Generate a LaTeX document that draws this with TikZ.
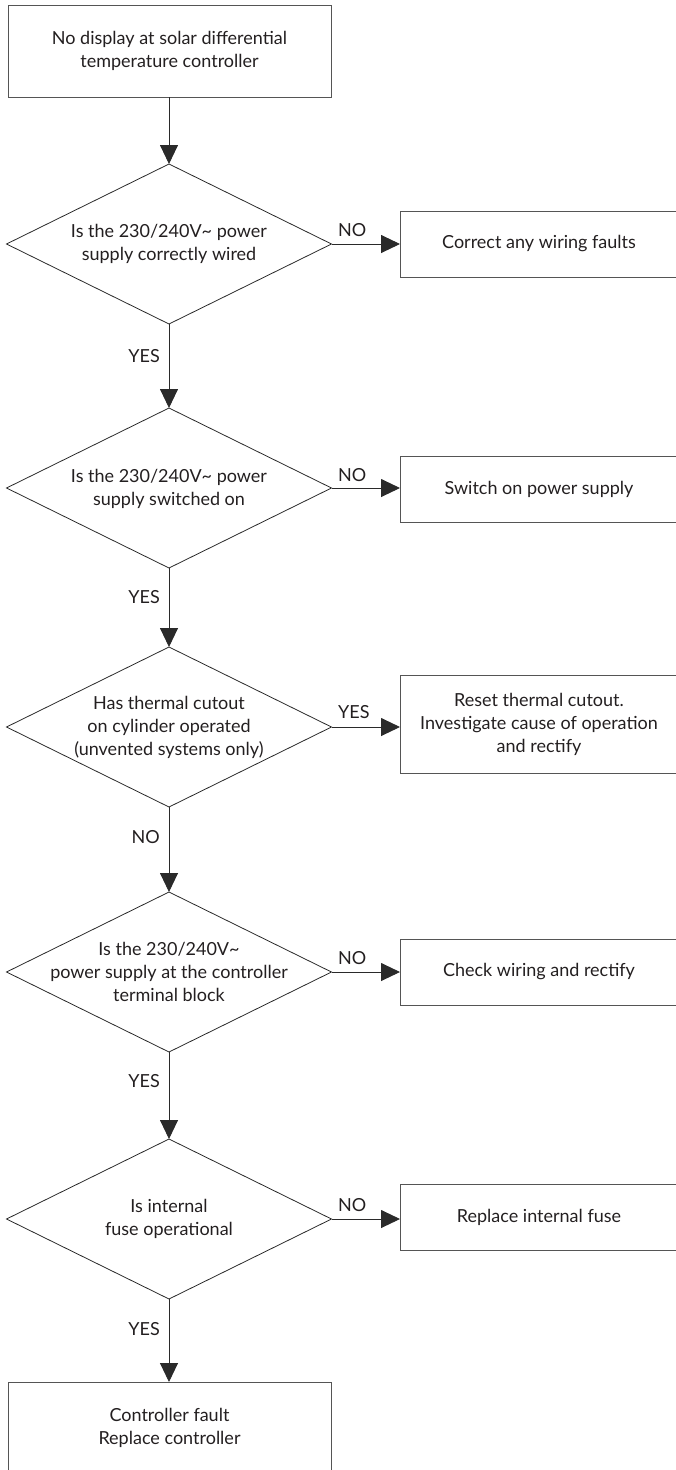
\documentclass[tikz,border=0pt]{standalone}
\usepackage{fontspec}
\setmainfont{Lato}
\usetikzlibrary{shapes.geometric,arrows.meta}
\definecolor{linec}{HTML}{2A2A2A}
\definecolor{boxc}{HTML}{555555}
\definecolor{textc}{HTML}{231F20}
\newcommand\flowfont{\fontsize{18}{23}\selectfont}
\begin{document}
\begin{tikzpicture}[x=1pt,y=-1pt,
  boxnode/.style={draw=boxc, line width=1pt, align=center, inner sep=0pt, outer sep=0pt, text=textc, font=\flowfont},
  sidebox/.style={align=center, inner sep=0pt, outer sep=0pt, text=textc, font=\flowfont, minimum width=278pt},
  boxline/.style={draw=boxc, line width=1pt},
  dia/.style={draw=linec, line width=0.8pt, shape=diamond, minimum width=325pt, minimum height=160pt, inner sep=0pt, outer sep=0pt},
  diatext/.style={align=center, text=textc, font=\flowfont, inner sep=0pt},
  lbl/.style={text=textc, font=\flowfont, inner sep=0pt},
  arr/.style={draw=linec, line width=0.9pt, -{Triangle[length=19pt,width=18pt]}}
]
\useasboundingbox (0,0) rectangle (676,1470);
\clip (0,0) rectangle (676,1470);

% main column
\node[boxnode, minimum width=323pt, minimum height=92pt] (start) at (169.5,51) {No display at solar differential\\temperature controller};

\node[dia] (d1) at (169,244) {};
\node[diatext] (t1) at (169,244) {Is the 230/240V\textasciitilde{} power\\supply correctly wired};
\node[dia] (d2) at (169,488) {};
\node[diatext] (t2) at (169,489) {Is the 230/240V\textasciitilde{} power\\supply switched on};
\node[dia] (d3) at (169,727) {};
\node[diatext] (t3) at (169,727) {Has thermal cutout\\on cylinder operated\\(unvented systems only)};
\node[dia] (d4) at (169,972) {};
\node[diatext] (t4) at (169,972) {Is the 230/240V\textasciitilde{}\\power supply at the controller\\terminal block};
\node[dia] (d5) at (169,1219) {};
\node[diatext] (t5) at (169,1219) {Is internal\\fuse operational};

\node[boxnode, minimum width=323pt, minimum height=92pt] (end) at (169.5,1428) {Controller fault\\Replace controller};

% side boxes (open on the right, running off the page)
\node[sidebox, minimum height=66pt] (b1) at (539,244) {Correct any wiring faults};
\node[sidebox, minimum height=66pt] (b2) at (539,489) {Switch on power supply};
\node[sidebox, minimum height=98pt] (b3) at (539,724) {Reset thermal cutout.\\Investigate cause of operation\\and rectify};
\node[sidebox, minimum height=66pt] (b4) at (539,972) {Check wiring and rectify};
\node[sidebox, minimum height=66pt] (b5) at (539,1217) {Replace internal fuse};
\foreach \b in {b1,b2,b3,b4,b5}
  \draw[boxline] ([xshift=20pt]\b.north east) -- (\b.north west) -- (\b.south west) -- ([xshift=20pt]\b.south east);

% vertical connectors
\draw[arr] (start.south -| d1.north) -- (d1.north);
\draw[arr] (d1.south) -- (d2.north);
\draw[arr] (d2.south) -- (d3.north);
\draw[arr] (d3.south) -- (d4.north);
\draw[arr] (d4.south) -- (d5.north);
\draw[arr] (d5.south) -- (d5.south |- end.north);

% horizontal connectors
\draw[arr] (d1.east) -- (d1.east -| b1.west);
\draw[arr] (d2.east) -- (d2.east -| b2.west);
\draw[arr] (d3.east) -- (d3.east -| b3.west);
\draw[arr] (d4.east) -- (d4.east -| b4.west);
\draw[arr] (d5.east) -- (d5.east -| b5.west);

% labels
\node[lbl, anchor=west] (h1) at (338,230) {NO};
\node[lbl, anchor=west] (h2) at (338,475) {NO};
\node[lbl, anchor=west] (h3) at (338,712) {YES};
\node[lbl, anchor=west] (h4) at (338,958) {NO};
\node[lbl, anchor=west] (h5) at (338,1205) {NO};

\node[lbl, anchor=east] (v1) at (160,356) {YES};
\node[lbl, anchor=east] (v2) at (160,597) {YES};
\node[lbl, anchor=east] (v3) at (160,837) {NO};
\node[lbl, anchor=east] (v4) at (160,1081) {YES};
\node[lbl, anchor=east] (v5) at (160,1329) {YES};
\end{tikzpicture}
\end{document}
